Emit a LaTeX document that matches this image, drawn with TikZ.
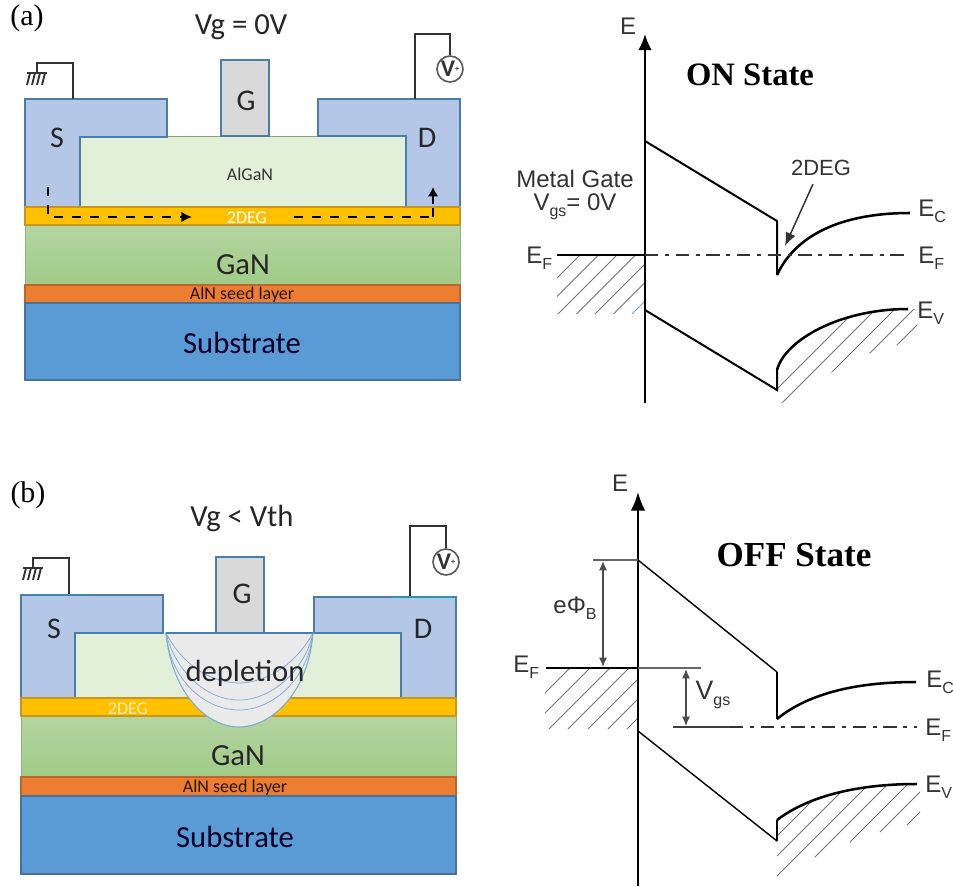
\documentclass[tikz,border=0pt]{standalone}
\usepackage{fontspec}
\usetikzlibrary{arrows.meta}
\setmainfont{Liberation Serif}
\newfontfamily\calf{Carlito}
\newfontfamily\helf{Liberation Sans}
\newcommand{\fsz}[1]{\fontsize{#1}{#1}\selectfont}
\newcommand{\bsub}[1]{{\fsz{12}\raisebox{-4.5pt}{#1}}}
\newcommand{\vplus}{V\raisebox{4pt}{\fsz{6}+}}
\definecolor{metal}{HTML}{B4C7E7}
\definecolor{edgeblue}{HTML}{4A7EA8}
\definecolor{algan}{HTML}{E2F0D9}
\definecolor{gatef}{HTML}{D9D9D9}
\definecolor{twodeg}{HTML}{FFC000}
\definecolor{twodegE}{HTML}{C8961E}
\definecolor{ganT}{HTML}{B4D4A2}
\definecolor{ganB}{HTML}{A0CC86}
\definecolor{aln}{HTML}{ED7D31}
\definecolor{alnE}{HTML}{B8682E}
\definecolor{subs}{HTML}{5B9BD5}
\definecolor{subsE}{HTML}{44749E}
\definecolor{depl}{HTML}{EAEAEA}
\definecolor{deplE}{HTML}{7FAAD2}
\definecolor{wire}{HTML}{333333}
\tikzset{
 metalbox/.style={fill=metal,draw=edgeblue,line width=0.9pt,line join=miter},
 alganbox/.style={fill=algan,draw=none},
 gatebox/.style={fill=gatef,draw=edgeblue,line width=0.9pt},
 degbox/.style={fill=twodeg,draw=twodegE,line width=0.9pt},
 ganbox/.style={top color=ganT,bottom color=ganB,draw=ganB!90!black,line width=0.4pt},
 alnbox/.style={fill=aln,draw=alnE,line width=0.9pt},
 subbox/.style={fill=subs,draw=subsE,line width=0.9pt},
 wireline/.style={draw=wire,line width=1.4pt},
 lab/.style={inner sep=0pt,font=\calf\fsz{22.5},text=black!85},
 biglab/.style={inner sep=0pt,font=\calf\fsz{23},text=black!85},
 smalllab/.style={inner sep=0pt,font=\calf\fsz{13.5}},
 panel/.style={inner sep=0pt,font=\fsz{22.5}},
 bandlab/.style={inner sep=0pt,font=\helf\fsz{18},text=black!80},
 statelab/.style={inner sep=0pt,font=\bfseries},
 band/.style={draw=black,line width=1.5pt},
 bandc/.style={draw=black,line width=1.9pt},
 thinband/.style={draw=black,line width=1.05pt},
 hatchl/.style={draw=black!55,line width=0.75pt},
 dimline/.style={draw=black!60,line width=0.9pt},
 flow/.style={draw=black,line width=1.5pt,dash pattern=on 6.75pt off 6.75pt},
 dotdash/.style={draw=black!80,line width=1.2pt,dash pattern=on 10pt off 5pt on 3pt off 5pt},
 dimarrow/.style={draw=black!70,line width=0.9pt,{Latex[length=7pt,width=6pt]}-{Latex[length=7pt,width=6pt]}},
 deplcurve/.style={draw=deplE,line width=0.55pt},
 vm/.style={circle,draw=black!65,line width=1.2pt,minimum size=19.5pt,inner sep=0pt,font=\calf\bfseries\fsz{18},text=black!80},
}
\newcommand{\groundsym}[2]{% x of comb stem, y of comb
  \draw[wireline] (#1-10,#2) -- (#1+10,#2);
  \foreach \dx in {-7,-2,3,8} \draw[wireline] (#1+\dx,#2) -- (#1+\dx-3,#2+12);
}
\begin{document}
\begin{tikzpicture}[x=0.75pt,y=-0.75pt]
\useasboundingbox (0,0) rectangle (953,886);
\fill[white] (0,0) rectangle (953,886);

%% ---------- panel (a) device
\path[ganbox] (25,225) rectangle (460,285);
\path[alnbox] (25,285) rectangle (460,303);
\path[subbox] (25,303) rectangle (460,380);
\path[alganbox] (80,136) rectangle (406,207);
\draw[ganB!80!black,line width=0.5pt] (167,136) -- (318,136);
\path[metalbox] (25,207) -- (25,99) -- (167,99) -- (167,137) -- (80,137) -- (80,207) -- cycle;
\path[metalbox] (460,207) -- (460,99) -- (318,99) -- (318,136) -- (406,136) -- (406,207) -- cycle;
\path[gatebox] (221,60) rectangle (269,136);
\path[degbox] (25,207) rectangle (460,225);
% wires (a)
\coordinate (sa) at (73,99); \coordinate (sat) at (73,63); \coordinate (gat) at (37,63); \coordinate (gab) at (37,73);
\draw[wireline] (sa) -- (sat) -- (gat) -- (gab);
\groundsym{37}{73}
\node[vm] (va) at (450,69) {\vplus};
\coordinate (da) at (415,99); \coordinate (dat1) at (415,34); \coordinate (dat2) at (450,34);
\draw[wireline] (da) -- (dat1) -- (dat2) -- (va.north);
% current path
\coordinate (fa0) at (48,187); \coordinate (fa1) at (48,214);
\coordinate (fa2) at (54,217); \coordinate (fa3) at (192,217);
\coordinate (fa4) at (294,217); \coordinate (fa5) at (433,217);\coordinate (fa6) at (433,187);
\draw[flow] (fa0) -- (fa1);
\draw[flow,-{Latex[length=8pt,width=8pt]}] (fa2) -- (fa3);
\draw[flow] (fa4) -- (fa5);
\draw[black,line width=1.5pt,dash pattern=on 7pt off 3pt,-{Latex[length=7pt,width=8pt]}] (fa5) -- (fa6);
% labels (a)
\node[panel] (pa) at (27,18) {(a)};
\node[biglab] (vga) at (241,27) {Vg = 0V};
\node[lab] (sla) at (57,138) {S};
\node[lab] (dla) at (427,138) {D};
\node[lab] (gla) at (246,101) {G};
\node[smalllab,text=black!80] (ala) at (250,174) {AlGaN};
\node[smalllab,text=white] (dega) at (247,218) {2DEG};
\node[biglab] (gna) at (243,265) {GaN};
\node[smalllab,text=black!85!orange] (alna) at (242,295) {AlN seed layer};
\node[biglab,text=black!85!blue] (suba) at (242,343) {Substrate};

%% ---------- panel (b) device
\path[ganbox] (21,716) rectangle (456,777);
\path[alnbox] (21,777) rectangle (456,796);
\path[subbox] (21,796) rectangle (456,874);
\path[alganbox] (75,633) rectangle (401,698);
\path[metalbox] (21,698) -- (21,595) -- (163,595) -- (163,633) -- (75,633) -- (75,698) -- cycle;
\path[metalbox] (456,698) -- (456,597) -- (314,597) -- (314,633) -- (401,633) -- (401,698) -- cycle;
\path[gatebox] (216,557) rectangle (264,633);
\path[degbox] (21,698) rectangle (456,716);
% depletion
\coordinate (dl) at (166,633); \coordinate (dr) at (313,633);
\path[fill=depl,deplcurve,line width=0.8pt] (dl) .. controls (172,695) and (208,727) .. (239,727) .. controls (270,727) and (308,695) .. (dr) -- cycle;
\draw[deplcurve] (dl) .. controls (170,680) and (205,710) .. (239,710) .. controls (272,710) and (308,680) .. (dr);
\draw[deplcurve] (dl) .. controls (175,670) and (205,700) .. (239,700) .. controls (272,700) and (305,670) .. (dr);
\draw[deplcurve] (dl) .. controls (180,660) and (205,682) .. (239,683) .. controls (272,682) and (298,660) .. (dr);
\draw[edgeblue,line width=0.9pt] (dl) -- (dr);
% wires (b)
\coordinate (sb) at (69,595); \coordinate (sbt) at (69,558); \coordinate (gbt) at (33,558); \coordinate (gbb) at (33,568);
\draw[wireline] (sb) -- (sbt) -- (gbt) -- (gbb);
\groundsym{33}{568}
\node[vm] (vb) at (446,562) {\vplus};
\coordinate (db) at (410,597); \coordinate (dbt1) at (410,526); \coordinate (dbt2) at (446,526);
\draw[wireline] (db) -- (dbt1) -- (dbt2) -- (vb.north);
\coordinate (tl1) at (25,594.5); \coordinate (tl2) at (87,594.5);
\coordinate (tr1) at (393,597); \coordinate (tr2) at (452,597);
\draw[edgeblue!70!cyan!90!black,line width=1.2pt] (tl1) -- (tl2);
\draw[edgeblue!70!cyan!90!black,line width=1.2pt] (tr1) -- (tr2);
% labels (b)
\node[panel] (pb) at (28,495) {(b)};
\node[biglab] (vgb) at (242,518) {Vg < Vth};
\node[lab] (slb) at (54,629) {S};
\node[lab] (dlb) at (423,629) {D};
\node[lab] (glb) at (242,594) {G};
\node[biglab] (depb) at (245,673) {depletion};
\node[smalllab,text=twodeg!30!white] (degb) at (128,709) {2DEG};
\node[biglab] (gnb) at (238,756) {GaN};
\node[smalllab,text=black!85!orange] (alnb) at (235,788) {AlN seed layer};
\node[biglab,text=black!85!blue] (subb) at (235,837) {Substrate};

%% ---------- ON state band diagram
\begin{scope}
\clip (557,255) rectangle (645,313);
\foreach \cc in {835,853.5,872,890.5,909,927.5}
  \draw[hatchl] (\cc-400,400) -- (\cc-200,200);
\draw[hatchl,draw=edgeblue!70] (946-400,400) -- (946-200,200);
\end{scope}
\begin{scope}
\clip (777,403) -- (777,370) .. controls (785,340) and (840,309) .. (907,309) -- (917,309) -- (917,335) -- (897,345) -- (870,353) -- (832,372) -- (782,403) -- cycle;
\foreach \cc in {1166,1185,1204,1223,1242}
  \draw[hatchl] (\cc-500,500) -- (\cc-250,250);
\end{scope}
\coordinate (a0) at (645,403); \coordinate (a1) at (645,34);
\draw[band,-{Latex[length=12pt,width=10pt]}] (a0) -- (a1);
\coordinate (c1) at (645,141); \coordinate (c2) at (777,221); \coordinate (c3) at (777,275); \coordinate (c4) at (910,213);
\draw[band] (c1) -- (c2) -- (c3);
\draw[bandc] (c3) .. controls (795,236) and (840,213) .. (c4);
\coordinate (f1) at (557,255); \coordinate (f2) at (645,255); \coordinate (f3) at (906,255);
\draw[band] (f1) -- (f2);
\draw[dotdash] (f2) -- (f3);
\coordinate (v1) at (645,310); \coordinate (v2) at (777,390); \coordinate (v3) at (777,370); \coordinate (v4) at (908,309);
\draw[band] (v1) -- (v2) -- (v3);
\draw[bandc] (v3) .. controls (785,340) and (840,309) .. (v4);
\coordinate (d1) at (813,184); \coordinate (d2) at (785,246);
\draw[black!80,line width=1.1pt,-{Latex[length=10pt,width=8pt]}] (d1) -- (d2);
\node[bandlab] (ea) at (628,26) {E};
\node[statelab,font=\bfseries\fsz{24.5}] (on) at (750,75) {ON State};
\node[bandlab] (mg) at (575,179) {Metal Gate};
\node[bandlab] (vgsa) at (575,207) {V\bsub{gs}= 0V};
\node[bandlab] (deglab) at (821,168) {\fsz{16.5}2DEG};
\node[bandlab,anchor=west] (efal) at (526,258) {E\bsub{F}};
\node[bandlab,anchor=west] (eca) at (918,211) {E\bsub{C}};
\node[bandlab,anchor=west] (efar) at (918,258) {E\bsub{F}};
\node[bandlab,anchor=west] (eva) at (917,313) {E\bsub{V}};

%% ---------- OFF state band diagram
\begin{scope}
\clip (545,668) rectangle (638,728);
\foreach \cc in {1238,1258,1278,1297,1317,1337,1356}
  \draw[hatchl] (\cc-500,500) -- (\cc-800,800);
\end{scope}
\begin{scope}
\clip (777,880) -- (777,820) .. controls (810,795) and (860,784) .. (916,784) -- (920,784) -- (920,880) -- cycle;
\foreach \cc/\xb in {1613/777,1633/777,1653/777,1672/815,1692/850,1712/880,1732/907}
  \draw[hatchl] (\xb,\cc-\xb) -- (\cc-770,770);
\end{scope}
\coordinate (b0) at (638,886); \coordinate (b1) at (638,492);
\draw[band,-{Latex[length=14pt,width=11pt]}] (b0) -- (b1);
\coordinate (oc0) at (593,560); \coordinate (oc1) at (638,560);
\draw[dimline] (oc0) -- (oc1);
\coordinate (oc2) at (777,672); \coordinate (oc3) at (777,719); \coordinate (oc4) at (916,682);
\draw[thinband] (oc1) -- (oc2);
\draw[band] (oc2) -- (oc3);
\draw[bandc] (oc3) .. controls (810,692) and (860,682) .. (oc4);
\coordinate (of1) at (546,668); \coordinate (of2) at (638,668); \coordinate (of3) at (701,668);
\draw[band] (of1) -- (of2);
\draw[dimline] (of2) -- (of3);
\coordinate (og1) at (673,727); \coordinate (og2) at (730,727); \coordinate (og3) at (917,727);
\draw[dimline,draw=black!75] (og1) -- (og2);
\draw[dotdash] (og2) -- (og3);
\coordinate (ov1) at (638,731); \coordinate (ov2) at (777,841); \coordinate (ov3) at (777,820); \coordinate (ov4) at (917,784);
\draw[thinband] (ov1) -- (ov2);
\draw[band] (ov2) -- (ov3);
\draw[bandc] (ov3) .. controls (810,795) and (860,784) .. (ov4);
\coordinate (ar1) at (603,561); \coordinate (ar2) at (603,667);
\draw[dimarrow] (ar1) -- (ar2);
\coordinate (ar3) at (686,669); \coordinate (ar4) at (686,726);
\draw[dimarrow] (ar3) -- (ar4);
\node[bandlab] (eb) at (620,483) {E};
\node[statelab,font=\bfseries\fsz{26.3}] (off) at (794,555) {OFF State};
\node[bandlab] (ephi) at (575,608) {eΦ\bsub{B}};
\node[bandlab,font=\helf\fsz{20}] (vgsb) at (713,695) {V\bsub{gs}};
\node[bandlab,anchor=west] (efbl) at (513,667) {E\bsub{F}};
\node[bandlab,anchor=west] (ecb) at (926,682) {E\bsub{C}};
\node[bandlab,anchor=west] (efbr) at (925,730) {E\bsub{F}};
\node[bandlab,anchor=west] (evb) at (925,787) {E\bsub{V}};
\end{tikzpicture}
\end{document}
